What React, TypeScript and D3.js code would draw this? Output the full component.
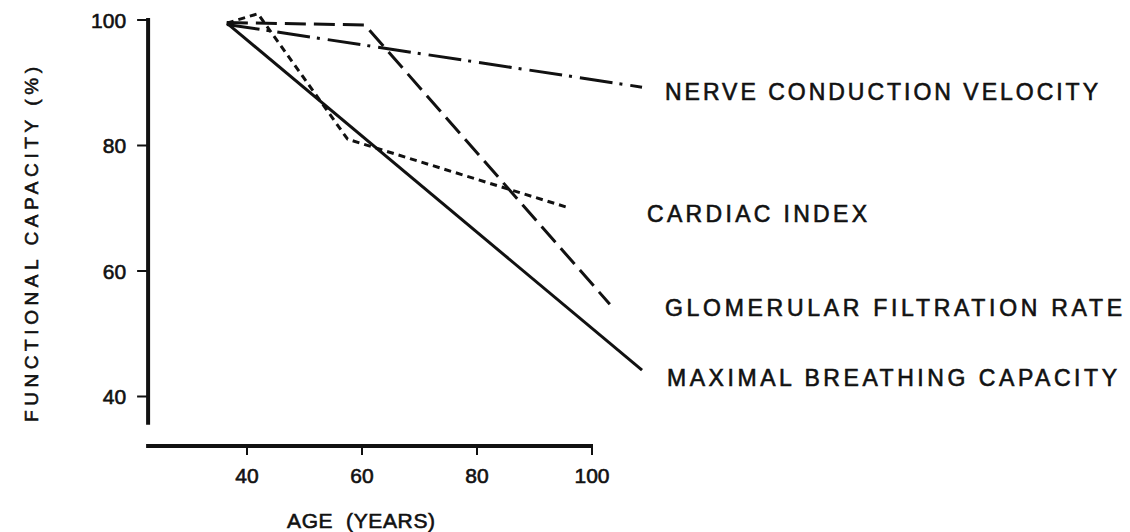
import { useEffect, useRef } from 'react';
import * as d3 from 'd3';

// age ticks and capacity ticks as printed on the figure
const X_TICKS = [40, 60, 80, 100];
const Y_TICKS = [40, 60, 80, 100];

// each series (age in years, functional capacity in %)
const MBC_AGE = [36.5, 108.7];
const MBC_VAL = [99.5, 44.2];

const GFR_AGE = [36.5, 60.5, 103.1];
const GFR_VAL = [99.6, 99.2, 54.7];

const CI_AGE = [36.5, 41.9, 57.5, 96.2];
const CI_VAL = [99.5, 101.0, 81.0, 70.0];

const NCV_AGE = [36.5, 108.7];
const NCV_VAL = [99.3, 89.3];

const SERIES = [
  { name: 'NERVE CONDUCTION VELOCITY', ages: NCV_AGE, vals: NCV_VAL },
  { name: 'CARDIAC INDEX', ages: CI_AGE, vals: CI_VAL },
  { name: 'GLOMERULAR FILTRATION RATE', ages: GFR_AGE, vals: GFR_VAL },
  { name: 'MAXIMAL BREATHING CAPACITY', ages: MBC_AGE, vals: MBC_VAL },
];

// line styles + label placement (layout only)
const STYLE = [
  { dash: '33,7,3,8', lx: 665, ly: 100, lw: 433 },
  { dash: '7,5', lx: 647, ly: 222, lw: 220 },
  { dash: '21,8', lx: 665, ly: 316, lw: 457 },
  { dash: null, lx: 667, ly: 386, lw: 450 },
];

const INK = '#111';
const FONT = '"Liberation Sans", Arial, Helvetica, sans-serif';

// scanned type looks heavier than regular weight, so add a hairline stroke
function ink(t: d3.Selection<SVGTextElement, unknown, null, undefined>, size: number) {
  return t
    .attr('font-family', FONT)
    .attr('font-size', size)
    .attr('fill', INK)
    .attr('stroke', INK)
    .attr('stroke-width', 0.6);
}

export default function App() {
  const svgRef = useRef<SVGSVGElement>(null);

  useEffect(() => {
    const el = svgRef.current;
    if (!el) return;
    document.body.style.margin = '0';

    const svg = d3.select(el);
    svg.selectAll('*').remove();

    const x = d3.scaleLinear().domain([40, 100]).range([247, 592]);
    const y = d3.scaleLinear().domain([40, 100]).range([396.5, 20]);

    const xMin = 22.8;
    const yMin = 35.5;

    // y axis (thick, with left ticks)
    svg.append('line')
      .attr('x1', x(xMin)).attr('x2', x(xMin))
      .attr('y1', y(100) - 2).attr('y2', y(yMin))
      .attr('stroke', INK).attr('stroke-width', 4);

    Y_TICKS.forEach((t) => {
      svg.append('line')
        .attr('x1', x(xMin) - 11).attr('x2', x(xMin))
        .attr('y1', y(t)).attr('y2', y(t))
        .attr('stroke', INK).attr('stroke-width', 2);
      ink(svg.append('text'), 21)
        .attr('x', x(xMin) - 22)
        .attr('y', y(t))
        .attr('dy', '0.36em')
        .attr('text-anchor', 'end')
        .text(t);
    });

    // x axis (thick, with down ticks)
    const axisY = 446;
    svg.append('line')
      .attr('x1', x(xMin) - 2).attr('x2', x(100) + 1)
      .attr('y1', axisY).attr('y2', axisY)
      .attr('stroke', INK).attr('stroke-width', 4);

    X_TICKS.forEach((t) => {
      svg.append('line')
        .attr('x1', x(t)).attr('x2', x(t))
        .attr('y1', axisY).attr('y2', axisY + 9)
        .attr('stroke', INK).attr('stroke-width', 2);
      ink(svg.append('text'), 21)
        .attr('x', x(t))
        .attr('y', 483)
        .attr('text-anchor', 'middle')
        .text(t);
    });

    // axis titles
    ink(svg.append('text'), 21)
      .attr('x', 287).attr('y', 528)
      .attr('textLength', 148).attr('lengthAdjust', 'spacing')
      .style('white-space', 'pre')
      .text('AGE  (YEARS)');

    ink(svg.append('text'), 19)
      .attr('transform', 'translate(38,422) rotate(-90)')
      .attr('textLength', 355).attr('lengthAdjust', 'spacing')
      .text('FUNCTIONAL CAPACITY (%)');

    // curves
    const line = d3.line<[number, number]>()
      .x((d) => x(d[0]))
      .y((d) => y(d[1]));

    SERIES.forEach((s, i) => {
      const pts = s.ages.map((a, k) => [a, s.vals[k]] as [number, number]);
      const st = STYLE[i];
      const p = svg.append('path')
        .datum(pts)
        .attr('d', line)
        .attr('fill', 'none')
        .attr('stroke', INK)
        .attr('stroke-width', 3)
        .attr('stroke-linejoin', 'round');
      if (st.dash) p.attr('stroke-dasharray', st.dash);

      ink(svg.append('text'), 23)
        .attr('x', st.lx).attr('y', st.ly)
        .attr('textLength', st.lw).attr('lengthAdjust', 'spacing')
        .text(s.name);
    });
  }, []);

  return (
    <svg
      ref={svgRef}
      width={1130}
      height={532}
      style={{ display: 'block', position: 'absolute', left: 0, top: 0, background: '#fff' }}
    />
  );
}
